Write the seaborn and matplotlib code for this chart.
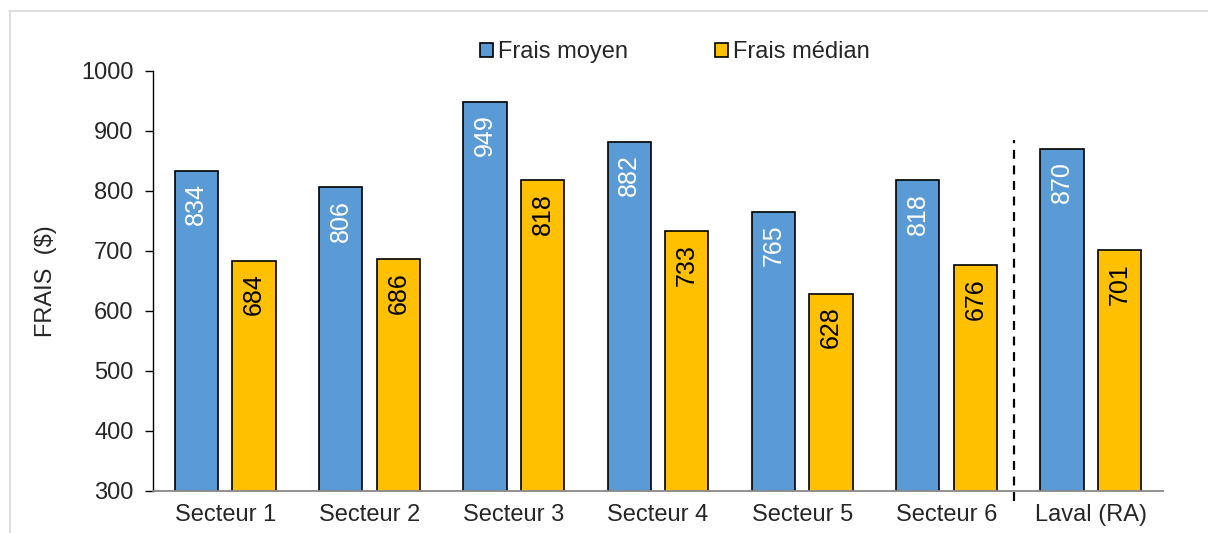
import pandas as pd
import seaborn as sns
import matplotlib.pyplot as plt
from matplotlib.lines import Line2D
from matplotlib.patches import Patch

# data
secteurs = ["Secteur 1", "Secteur 2", "Secteur 3", "Secteur 4", "Secteur 5", "Secteur 6", "Laval (RA)"]
frais_moyen = [834, 806, 949, 882, 765, 818, 870]
frais_median = [684, 686, 818, 733, 628, 676, 701]
series = ["Frais moyen", "Frais médian"]
couleurs = ["#5B9BD5", "#FFC000"]

df = pd.DataFrame({
    "secteur": secteurs * 2,
    "serie": [series[0]] * len(secteurs) + [series[1]] * len(secteurs),
    "frais": frais_moyen + frais_median,
})

sns.set_style("white")
plt.rcParams['font.family'] = ['Liberation Sans', 'DejaVu Sans']

fig = plt.figure(figsize=(12.08, 5.33), dpi=100)
ax = fig.add_axes([0.1267, 0.0788, 0.836, 0.788])

sns.barplot(data=df, x="secteur", y="frais", hue="serie", palette=couleurs,
            saturation=1, width=0.8, gap=0.25, edgecolor="black", linewidth=1.2,
            errorbar=None, ax=ax, legend=False)

ax.set_ylim(300, 1000)
ax.set_yticks(range(300, 1001, 100))
ax.set_xlim(-0.5, len(secteurs) - 0.5)

# value labels, rotated inside the bars
for cont, col in zip(ax.containers, ["white", "black"]):
    for bar in cont:
        h = bar.get_height()
        ax.annotate(f"{h:.0f}", (bar.get_x() + bar.get_width() / 2, h),
                    xytext=(0, -9), textcoords="offset points",
                    rotation=90, ha="center", va="top", fontsize=18, color=col)

ax.axvline(5.47, ymin=-0.025, ymax=0.835, color="black", ls=(0, (4, 3)),
           lw=1.6, clip_on=False)

sns.despine(ax=ax)
ax.spines["left"].set_color("black")
ax.spines["bottom"].set_color("#888888")
ax.spines["left"].set_linewidth(1.0)
ax.spines["bottom"].set_linewidth(1.3)
ax.tick_params(axis="y", left=True, length=6, width=1, color="black", labelsize=17, pad=8)
ax.tick_params(axis="x", bottom=False, labelsize=17, pad=6)
ax.set_xlabel("")
ax.set_ylabel("FRAIS  ($)", fontsize=17, labelpad=17)

handles = [Patch(facecolor=c, edgecolor="black", linewidth=1.2) for c in couleurs]
ax.legend(handles, series, loc="center", bbox_to_anchor=(0.517, 1.045), ncol=2,
          frameon=False, fontsize=17, handlelength=0.55, handleheight=0.55,
          handletextpad=0.2, columnspacing=3.7, borderpad=0)

# light frame around the chart area
fig.add_artist(Line2D([9 / 1208, 1.0], [1 - 10.5 / 533] * 2, color="#D9D9D9", lw=1.2))
fig.add_artist(Line2D([9.5 / 1208] * 2, [0, 1 - 10.5 / 533], color="#D9D9D9", lw=1.2))

fig.savefig("out.png", dpi=100)
